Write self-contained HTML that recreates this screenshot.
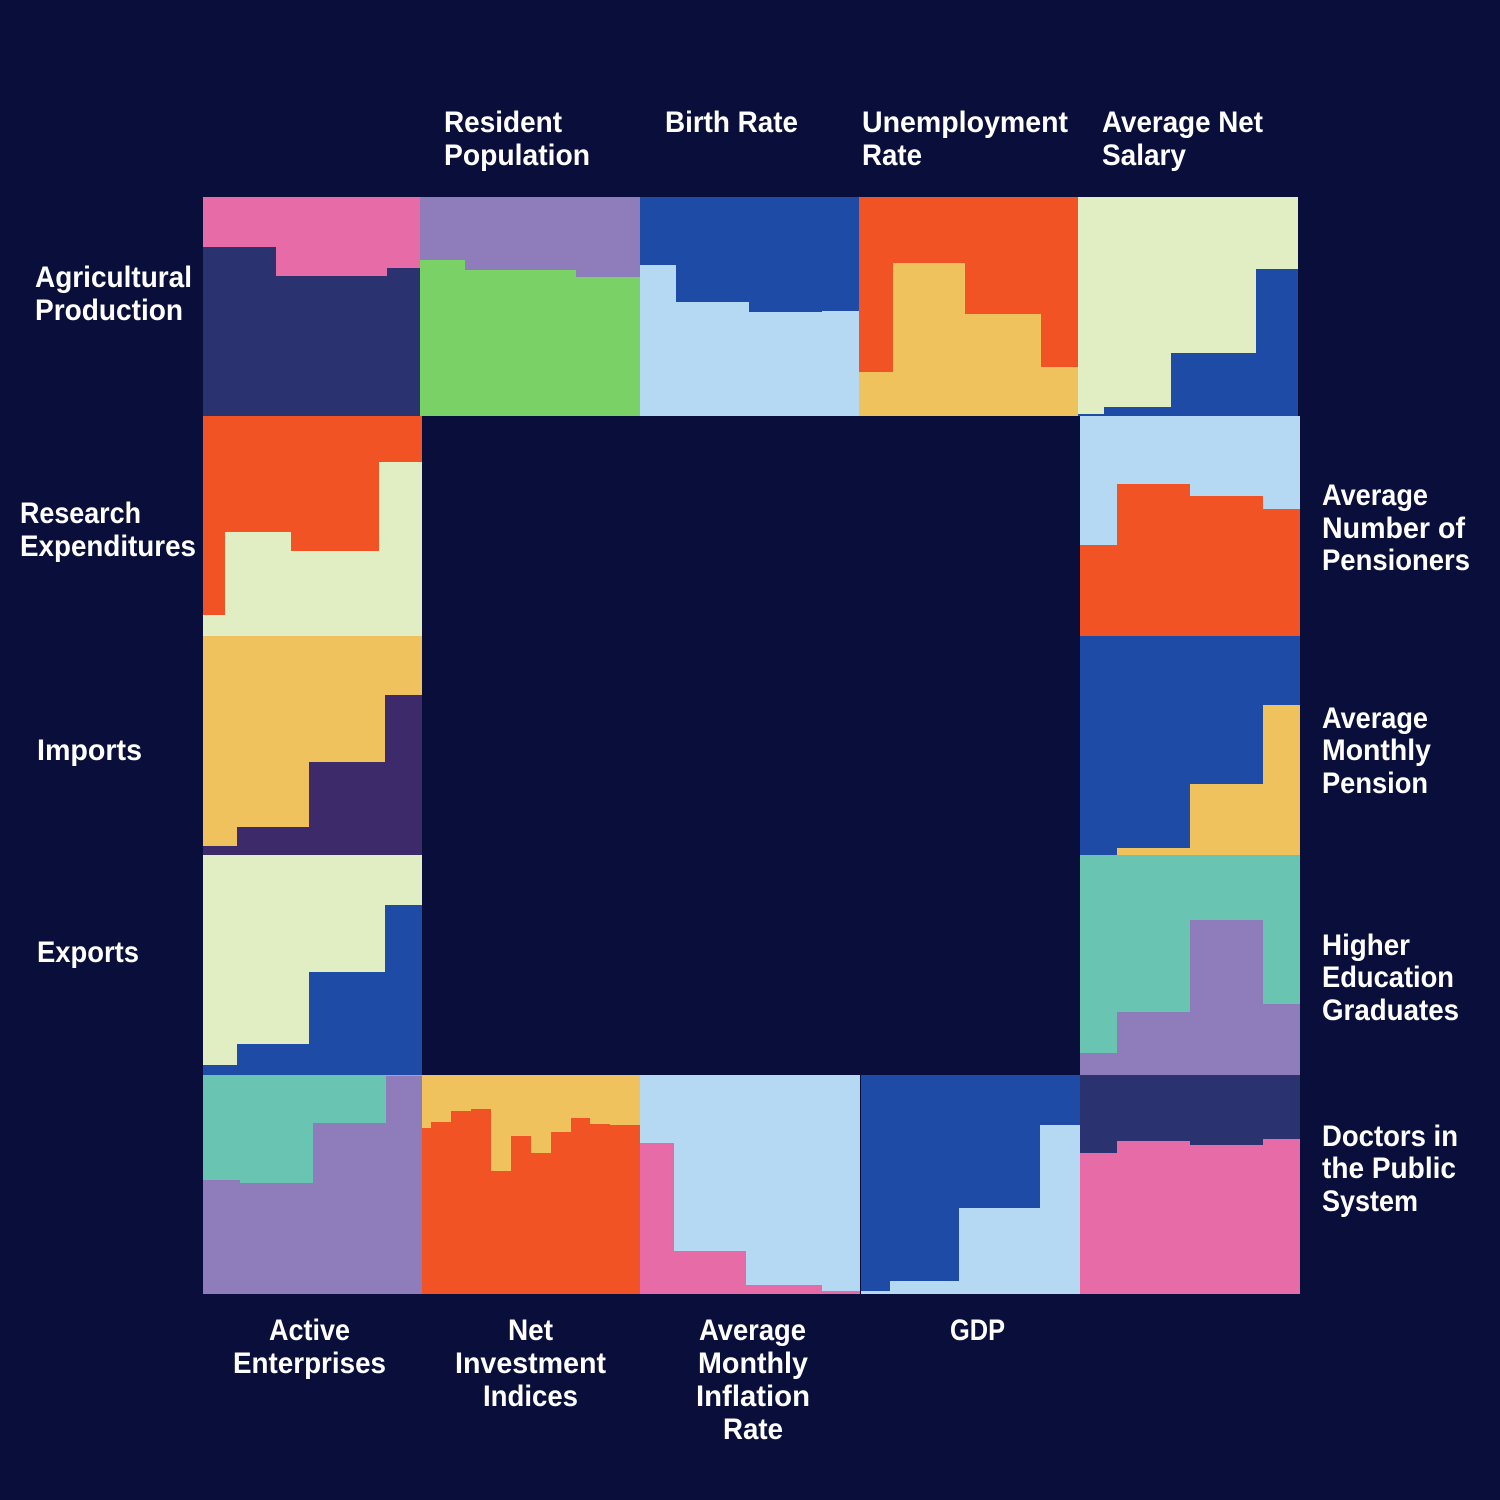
<!DOCTYPE html>
<html><head><meta charset="utf-8"><style>
html,body{margin:0;padding:0;background:#0A0E3A;}
svg{display:block}
text{font-family:"Liberation Sans",sans-serif;font-weight:bold;font-size:30px;fill:#fff}
</style></head><body>
<svg width="1500" height="1500" viewBox="0 0 1500 1500" xmlns="http://www.w3.org/2000/svg">
<rect width="1500" height="1500" fill="#0A0E3A"/>
<rect x="203" y="197" width="217" height="219" fill="#E66BA6"/>
<polygon fill="#2A3270" points="203,416 203,247 276,247 276,276 387,276 387,268 420,268 420,416"/>
<rect x="420" y="197" width="220" height="219" fill="#8E7CBB"/>
<polygon fill="#7AD165" points="420,416 420,260 465,260 465,270 576,270 576,277 640,277 640,416"/>
<rect x="640" y="197" width="219" height="219" fill="#1E4BA6"/>
<polygon fill="#B5D9F2" points="640,416 640,265 676,265 676,302 749,302 749,312 822,312 822,311 859,311 859,416"/>
<rect x="859" y="197" width="219" height="219" fill="#F25325"/>
<polygon fill="#F0C25E" points="859,416 859,372 893,372 893,263 965,263 965,314 1041,314 1041,367 1078,367 1078,416"/>
<rect x="1078" y="197" width="220" height="219" fill="#E1EEC3"/>
<polygon fill="#1E4BA6" points="1078,416 1078,414 1104,414 1104,407 1171,407 1171,353 1256,353 1256,269 1298,269 1298,416"/>
<rect x="203" y="416" width="219" height="220" fill="#F25325"/>
<polygon fill="#E1EEC3" points="203,636 203,615 225,615 225,532 291,532 291,551 379,551 379,462 422,462 422,636"/>
<rect x="203" y="636" width="219" height="219" fill="#F0C25E"/>
<polygon fill="#3D2A6B" points="203,855 203,846 237,846 237,827 309,827 309,762 385,762 385,695 422,695 422,855"/>
<rect x="203" y="855" width="219" height="220" fill="#E1EEC3"/>
<polygon fill="#1E4BA6" points="203,1075 203,1065 237,1065 237,1044 309,1044 309,972 385,972 385,905 422,905 422,1075"/>
<rect x="203" y="1075" width="219" height="219" fill="#6AC4B2"/>
<polygon fill="#8E7CBB" points="203,1294 203,1180 240,1180 240,1183 313,1183 313,1123 386,1123 386,1076 422,1076 422,1294"/>
<rect x="422" y="1075" width="218" height="219" fill="#F0C25E"/>
<polygon fill="#F25325" points="422,1294 422,1128 431,1128 431,1122 451,1122 451,1111 471,1111 471,1109 491,1109 491,1171 511,1171 511,1136 531,1136 531,1153 551,1153 551,1132 571,1132 571,1118 590,1118 590,1124 610,1124 610,1125 640,1125 640,1294"/>
<rect x="640" y="1075" width="220" height="219" fill="#B5D9F2"/>
<polygon fill="#E66BA6" points="640,1294 640,1143 674,1143 674,1251 746,1251 746,1285 822,1285 822,1291 860,1291 860,1294"/>
<rect x="861" y="1075" width="219" height="219" fill="#1E4BA6"/>
<polygon fill="#B5D9F2" points="861,1294 861,1291 890,1291 890,1281 959,1281 959,1208 1040,1208 1040,1125 1080,1125 1080,1294"/>
<rect x="1080" y="1075" width="220" height="219" fill="#2A3270"/>
<polygon fill="#E66BA6" points="1080,1294 1080,1153 1117,1153 1117,1141 1190,1141 1190,1145 1263,1145 1263,1139 1300,1139 1300,1294"/>
<rect x="1080" y="416" width="220" height="220" fill="#B5D9F2"/>
<polygon fill="#F25325" points="1080,636 1080,545 1117,545 1117,484 1190,484 1190,496 1263,496 1263,509 1300,509 1300,636"/>
<rect x="1080" y="636" width="220" height="219" fill="#1E4BA6"/>
<polygon fill="#F0C25E" points="1117,855 1117,848 1190,848 1190,784 1263,784 1263,705 1300,705 1300,855"/>
<rect x="1080" y="855" width="220" height="220" fill="#6AC4B2"/>
<polygon fill="#8E7CBB" points="1080,1075 1080,1053 1117,1053 1117,1012 1190,1012 1190,920 1263,920 1263,1004 1300,1004 1300,1075"/>

<g lengthAdjust="spacingAndGlyphs">
<text x="444" y="132" textLength="118" lengthAdjust="spacingAndGlyphs">Resident</text><text x="444" y="165" textLength="146" lengthAdjust="spacingAndGlyphs">Population</text>
<text x="665" y="132" textLength="133" lengthAdjust="spacingAndGlyphs">Birth Rate</text>
<text x="862" y="132" textLength="206" lengthAdjust="spacingAndGlyphs">Unemployment</text><text x="862" y="165" textLength="60" lengthAdjust="spacingAndGlyphs">Rate</text>
<text x="1102" y="132" textLength="161" lengthAdjust="spacingAndGlyphs">Average Net</text><text x="1102" y="165" textLength="84" lengthAdjust="spacingAndGlyphs">Salary</text>
<text x="35" y="287" textLength="157" lengthAdjust="spacingAndGlyphs">Agricultural</text><text x="35" y="320" textLength="148" lengthAdjust="spacingAndGlyphs">Production</text>
<text x="20" y="523" textLength="121" lengthAdjust="spacingAndGlyphs">Research</text><text x="20" y="556" textLength="176" lengthAdjust="spacingAndGlyphs">Expenditures</text>
<text x="37" y="760" textLength="105" lengthAdjust="spacingAndGlyphs">Imports</text>
<text x="37" y="962" textLength="102" lengthAdjust="spacingAndGlyphs">Exports</text>
<text x="1322" y="505" textLength="106" lengthAdjust="spacingAndGlyphs">Average</text><text x="1322" y="538" textLength="143" lengthAdjust="spacingAndGlyphs">Number of</text><text x="1322" y="570" textLength="148" lengthAdjust="spacingAndGlyphs">Pensioners</text>
<text x="1322" y="728" textLength="106" lengthAdjust="spacingAndGlyphs">Average</text><text x="1322" y="760" textLength="109" lengthAdjust="spacingAndGlyphs">Monthly</text><text x="1322" y="793" textLength="106" lengthAdjust="spacingAndGlyphs">Pension</text>
<text x="1322" y="955" textLength="88" lengthAdjust="spacingAndGlyphs">Higher</text><text x="1322" y="987" textLength="132" lengthAdjust="spacingAndGlyphs">Education</text><text x="1322" y="1020" textLength="137" lengthAdjust="spacingAndGlyphs">Graduates</text>
<text x="1322" y="1146" textLength="136" lengthAdjust="spacingAndGlyphs">Doctors in</text><text x="1322" y="1178" textLength="134" lengthAdjust="spacingAndGlyphs">the Public</text><text x="1322" y="1211" textLength="96" lengthAdjust="spacingAndGlyphs">System</text>
<text x="269" y="1340" textLength="81" lengthAdjust="spacingAndGlyphs">Active</text><text x="233" y="1373" textLength="153" lengthAdjust="spacingAndGlyphs">Enterprises</text>
<text x="508" y="1340" textLength="45" lengthAdjust="spacingAndGlyphs">Net</text><text x="455" y="1373" textLength="151" lengthAdjust="spacingAndGlyphs">Investment</text><text x="483" y="1406" textLength="95" lengthAdjust="spacingAndGlyphs">Indices</text>
<text x="699" y="1340" textLength="107" lengthAdjust="spacingAndGlyphs">Average</text><text x="698" y="1373" textLength="110" lengthAdjust="spacingAndGlyphs">Monthly</text><text x="696" y="1406" textLength="114" lengthAdjust="spacingAndGlyphs">Inflation</text><text x="723" y="1439" textLength="60" lengthAdjust="spacingAndGlyphs">Rate</text>
<text x="950" y="1340" textLength="55" lengthAdjust="spacingAndGlyphs">GDP</text>
</g>
</svg>
</body></html>
